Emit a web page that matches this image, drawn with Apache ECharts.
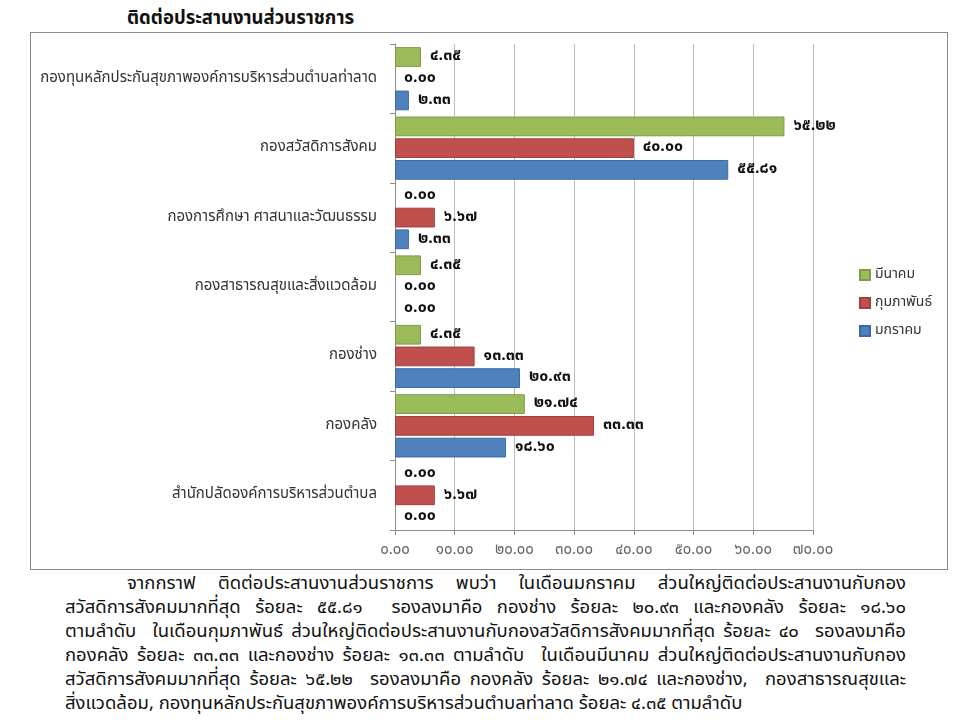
<!DOCTYPE html>
<html lang="th">
<head>
    <meta charset="UTF-8">
    <title>ติดต่อประสานงานส่วนราชการ</title>
    <script src="https://cdn.jsdelivr.net/npm/echarts@6/dist/echarts.min.js"></script>
    <style>
        body{
            margin: 0;
            background: #fff;
            font-family: 'Noto Sans Thai', 'Noto Sans', 'DejaVu Sans', sans-serif;
        }
        #title{
            position: absolute;
            left: 127px;
            top: 4px;
            font-size: 18.5px;
            font-weight: bold;
            color: #111;
        }
        #paint{
            position: absolute;
            left: 30px;
            top: 32px;
            width: 918px;
            height: 538px;
            box-sizing: border-box;
            border: 1px solid #8a8a8a;
        }
        #note{
            position: absolute;
            left: 65px;
            top: 571px;
            width: 841px;
            font-size: 18.5px;
            line-height: 24px;
            color: #111;
        }
        #note div{
            height: 24px;
            text-align: justify;
            text-align-last: justify;
            white-space: pre;
        }
        #note div.first{ padding-left: 62px; }
        #note div.last{ text-align-last: left; }
    </style>
</head>
<body>
    <div id="title">ติดต่อประสานงานส่วนราชการ</div>
    <div id="paint"></div>
    <div id="note">
        <div class="first">จากกราฟ ติดต่อประสานงานส่วนราชการ พบว่า ในเดือนมกราคม ส่วนใหญ่ติดต่อประสานงานกับกอง</div>
        <div>สวัสดิการสังคมมากที่สุด ร้อยละ ๕๕.๘๑  รองลงมาคือ กองช่าง ร้อยละ ๒๐.๙๓ และกองคลัง ร้อยละ ๑๘.๖๐</div>
        <div>ตามลำดับ  ในเดือนกุมภาพันธ์ ส่วนใหญ่ติดต่อประสานงานกับกองสวัสดิการสังคมมากที่สุด ร้อยละ ๔๐  รองลงมาคือ</div>
        <div>กองคลัง ร้อยละ ๓๓.๓๓ และกองช่าง ร้อยละ ๑๓.๓๓ ตามลำดับ  ในเดือนมีนาคม ส่วนใหญ่ติดต่อประสานงานกับกอง</div>
        <div>สวัสดิการสังคมมากที่สุด ร้อยละ ๖๕.๒๒  รองลงมาคือ กองคลัง ร้อยละ ๒๑.๗๔ และกองช่าง,  กองสาธารณสุขและ</div>
        <div class="last">สิ่งแวดล้อม, กองทุนหลักประกันสุขภาพองค์การบริหารส่วนตำบลท่าลาด ร้อยละ ๔.๓๕ ตามลำดับ</div>
    </div>

<script type="text/javascript">
    // categories, top to bottom
    var categories = [
        'กองทุนหลักประกันสุขภาพองค์การบริหารส่วนตำบลท่าลาด',
        'กองสวัสดิการสังคม',
        'กองการศึกษา ศาสนาและวัฒนธรรม',
        'กองสาธารณสุขและสิ่งแวดล้อม',
        'กองช่าง',
        'กองคลัง',
        'สำนักปลัดองค์การบริหารส่วนตำบล'
    ];
    var janData = [2.33, 55.81, 2.33, 0, 20.93, 18.60, 0];
    var febData = [0, 40.00, 6.67, 0, 13.33, 33.33, 6.67];
    var marData = [4.35, 65.22, 0, 4.35, 4.35, 21.74, 0];
    var seriesNames = ['มีนาคม', 'กุมภาพันธ์', 'มกราคม'];
    var axisTicks = [0, 10, 20, 30, 40, 50, 60, 70];

    var thaiDigits = '๐๑๒๓๔๕๖๗๘๙';
    function toThai(num){
        return num.toFixed(2).replace(/[0-9]/g, function(d){ return thaiDigits[+d]; });
    }

    var myChart = echarts.init(document.getElementById('paint'));

    function bar(name, data, color, border){
        return {
            name: name,
            type: 'bar',
            // no outline on empty bars
            data: data.map(function(v){
                return v === 0 ? { value: v, itemStyle: { borderWidth: 0 } } : v;
            }),
            barGap: '10%',
            barCategoryGap: '9%',
            itemStyle: { color: color, borderColor: border, borderWidth: 1 },
            label: {
                show: true,
                position: 'right',
                distance: 9,
                color: '#111',
                fontWeight: 'bold',
                fontSize: 16,
                formatter: function(p){ return toThai(p.value); }
            },
            animation: false
        };
    }

    var option = {
        textStyle: { fontFamily: "'Noto Sans Thai', 'Noto Sans', 'DejaVu Sans', sans-serif" },
        legend: {
            data: seriesNames,
            orient: 'vertical',
            left: 823,
            top: 230,
            itemWidth: 10,
            itemHeight: 10,
            itemGap: 14,
            icon: 'rect',
            textStyle: { color: '#333', fontSize: 14 }
        },
        grid: { left: 364, right: 134, top: 11, bottom: 39 },
        xAxis: {
            type: 'value',
            min: axisTicks[0],
            max: axisTicks[axisTicks.length - 1],
            interval: 10,
            axisLine: { show: true, lineStyle: { color: '#8c8c8c' } },
            axisTick: { show: true, length: 5, lineStyle: { color: '#8c8c8c' } },
            axisLabel: {
                margin: 13,
                color: '#666',
                fontSize: 15,
                formatter: function(v){ return toThai(v); }
            },
            splitLine: { show: true, lineStyle: { color: '#bdbdbd' } }
        },
        yAxis: {
            type: 'category',
            data: categories,
            inverse: true,
            axisLine: { show: true, lineStyle: { color: '#8c8c8c' } },
            axisTick: { show: true, length: 5, lineStyle: { color: '#8c8c8c' } },
            axisLabel: { margin: 18, color: '#333', fontSize: 15 }
        },
        series: [
            bar(seriesNames[0], marData, '#9bbb59', '#7f9c45'),
            bar(seriesNames[1], febData, '#c0504d', '#a33f3c'),
            bar(seriesNames[2], janData, '#4f81bd', '#3c6aa3')
        ]
    };
    myChart.setOption(option);
</script>
</body>
</html>
